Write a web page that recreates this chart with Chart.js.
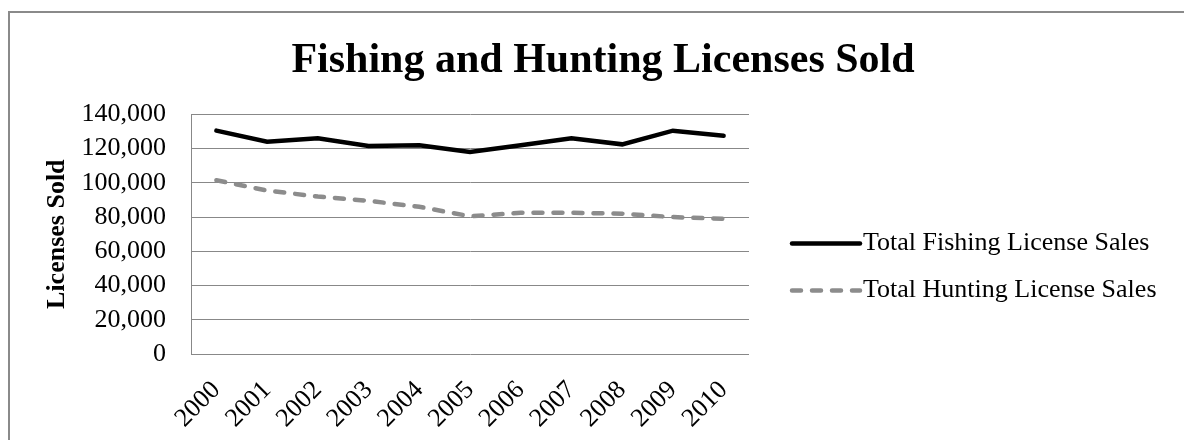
<!DOCTYPE html>
<html>
<head>
<meta charset="utf-8">
<script src="https://cdn.jsdelivr.net/npm/chart.js@4.4.1/dist/chart.umd.min.js"></script>
<style>
  html, body { margin: 0; padding: 0; background: #fff; overflow: hidden; }
  #frame { position: absolute; left: 8px; top: 11px; width: 1200px; height: 460px; border-left: 2px solid #8a8a8a; border-top: 2px solid #8a8a8a; }
  #wrap { position: absolute; left: 0; top: 0; width: 1184px; height: 440px; }
</style>
</head>
<body>
<div id="frame"></div>
<div id="wrap"><canvas id="chart"></canvas></div>
<script>
// Dados
const years = ['2000', '2001', '2002', '2003', '2004', '2005', '2006', '2007', '2008', '2009', '2010'];
const fishingSales = [130500, 124000, 126000, 121500, 122000, 118000, 122000, 126000, 122500, 130500, 127500];
const huntingSales = [101500, 95500, 92000, 89500, 86000, 80500, 82500, 82500, 82000, 80000, 79000];
const seriesNames = ['Total Fishing License Sales', 'Total Hunting License Sales'];

const serif = "'Liberation Serif', 'Times New Roman', serif";

// Legenda desenhada ao lado do gráfico (linha + texto)
const sideLegend = {
  id: 'sideLegend',
  afterDraw(chart) {
    const { ctx, chartArea } = chart;
    const x0 = chartArea.right + 41;
    let y = chartArea.top + 129;
    chart.data.datasets.forEach(ds => {
      ctx.save();
      ctx.strokeStyle = ds.borderColor;
      ctx.lineWidth = ds.borderWidth;
      ctx.lineCap = ds.borderCapStyle || 'butt';
      ctx.setLineDash(ds.borderDash || []);
      ctx.beginPath();
      ctx.moveTo(x0 + 2, y);
      ctx.lineTo(x0 + 70, y);
      ctx.stroke();
      ctx.setLineDash([]);
      ctx.fillStyle = '#000';
      ctx.font = '26px ' + serif;
      ctx.textBaseline = 'middle';
      ctx.fillText(ds.label, x0 + 73, y);
      ctx.restore();
      y += 47;
    });
  }
};

function drawChart() {
  const ctx = document.getElementById('chart').getContext('2d');
  new Chart(ctx, {
    type: 'line',
    data: {
      labels: years,
      datasets: [{
        label: seriesNames[0],
        data: fishingSales,
        borderColor: '#000000',
        borderWidth: 4.5,
        borderCapStyle: 'round',
        pointRadius: 0,
        tension: 0,
        fill: false
      }, {
        label: seriesNames[1],
        data: huntingSales,
        borderColor: '#8c8c8c',
        borderWidth: 4.5,
        borderCapStyle: 'round',
        borderDash: [9, 11],
        pointRadius: 0,
        tension: 0,
        fill: false
      }]
    },
    options: {
      responsive: true,
      maintainAspectRatio: false,
      animation: false,
      layout: { padding: { left: 42, right: 20, top: 0, bottom: 7 } },
      plugins: {
        legend: { display: false },
        tooltip: { enabled: false },
        title: {
          display: true,
          text: 'Fishing and Hunting Licenses Sold',
          color: '#000',
          font: { family: serif, size: 42, weight: 'bold' },
          padding: { top: 36, bottom: 28 }
        }
      },
      scales: {
        x: {
          offset: true,
          grid: { display: false, drawTicks: false },
          border: { display: false },
          ticks: {
            color: '#000',
            font: { family: serif, size: 26 },
            minRotation: 45,
            maxRotation: 45,
            padding: 21
          },
          afterFit(scale) { scale.height = 79; }
        },
        y: {
          min: 0,
          max: 140000,
          grid: { color: '#888', drawTicks: false },
          border: { display: true, color: '#888' },
          ticks: {
            stepSize: 20000,
            autoSkip: false,
            color: '#000',
            font: { family: serif, size: 26 },
            padding: 25,
            callback: v => v.toLocaleString('en-US')
          },
          title: {
            display: true,
            text: 'Licenses Sold',
            color: '#000',
            font: { family: serif, size: 26, weight: 'bold' },
            padding: { top: 0, bottom: 8 }
          },
          afterFit(scale) { scale.width = 149; }
        },
        // espaço vazio à direita, onde fica a legenda
        legendSpace: {
          type: 'linear',
          position: 'right',
          display: true,
          grid: { display: false, drawTicks: false },
          border: { display: false },
          ticks: { display: false },
          afterFit(scale) { scale.width = 415; }
        }
      }
    },
    plugins: [sideLegend]
  });
}

// espera as fontes antes de medir os textos
Promise.all([
  document.fonts.load("26px 'Liberation Serif'"),
  document.fonts.load("bold 26px 'Liberation Serif'")
]).then(drawChart, drawChart);
</script>
</body>
</html>
